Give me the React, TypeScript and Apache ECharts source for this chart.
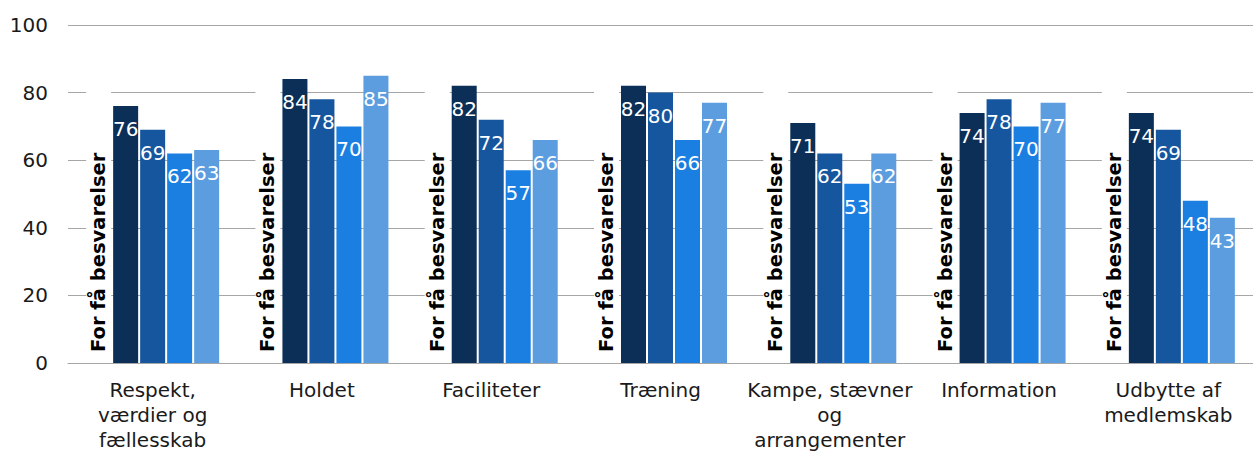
import React, { useEffect, useRef } from "react";
import * as echarts from "echarts";

const categories = [
  "Respekt,\nværdier og\nfællesskab",
  "Holdet",
  "Faciliteter",
  "Træning",
  "Kampe, stævner\nog\narrangementer",
  "Information",
  "Udbytte af\nmedlemskab",
];
const placeholderLabel = "For få besvarelser";
const placeholderValues = [88, 88, 88, 88, 88, 88, 88];
const series1 = [76, 84, 82, 82, 71, 74, 74];
const series2 = [69, 78, 72, 80, 62, 78, 69];
const series3 = [62, 70, 57, 66, 53, 70, 48];
const series4 = [63, 85, 66, 77, 62, 77, 43];
const yTicks = { min: 0, max: 100, interval: 20 };

const colors = ["#0c2f58", "#15569e", "#1b7fe2", "#5c9ddf"];
const FONT = "DejaVu Sans";

export default function App() {
  const ref = useRef<HTMLDivElement>(null);
  useEffect(() => {
    if (!ref.current) return;
    document.body.style.margin = "0";
    const chart = echarts.init(ref.current, undefined, { renderer: "svg" });
    const valueLabel = {
      show: true,
      position: "insideTop",
      distance: 13,
      color: "#ffffff",
      fontFamily: FONT,
      fontSize: 20,
    };
    const mk = (name: string, data: number[], color: string) => ({
      name,
      type: "bar",
      data,
      barWidth: 25,
      barGap: "8%",
      itemStyle: { color },
      label: valueLabel,
    });
    chart.setOption({
      animation: false,
      grid: { left: 68, right: 0, top: 25, bottom: 88, containLabel: false },
      xAxis: {
        type: "category",
        data: categories,
        axisTick: { show: false },
        axisLine: { lineStyle: { color: "#a6a6a6", width: 1 } },
        axisLabel: {
          color: "#1a1a1a",
          fontFamily: FONT,
          fontSize: 20,
          lineHeight: 25,
          margin: 14,
          interval: 0,
        },
      },
      yAxis: {
        type: "value",
        min: yTicks.min,
        max: yTicks.max,
        interval: yTicks.interval,
        axisLine: { show: false },
        axisTick: { show: false },
        splitLine: { lineStyle: { color: "#a6a6a6", width: 1 } },
        axisLabel: {
          color: "#1a1a1a",
          fontFamily: FONT,
          fontSize: 20,
          margin: 20,
        },
      },
      series: [
        {
          name: "placeholder",
          type: "bar",
          data: placeholderValues,
          barWidth: 25,
          barGap: "8%",
          z: 3,
          itemStyle: { color: "#ffffff", borderColor: "#ffffff", borderWidth: 2 },
          label: {
            show: true,
            formatter: placeholderLabel,
            position: "insideBottom",
            rotate: 90,
            align: "left",
            verticalAlign: "middle",
            distance: 7,
            offset: [4, 0],
            color: "#000000",
            fontFamily: FONT,
            fontWeight: "bold",
            fontSize: 19.5,
          },
        },
        mk("s1", series1, colors[0]),
        mk("s2", series2, colors[1]),
        mk("s3", series3, colors[2]),
        mk("s4", series4, colors[3]),
      ],
    });
    return () => chart.dispose();
  }, []);
  return <div ref={ref} style={{ width: 1253, height: 452 }} />;
}
